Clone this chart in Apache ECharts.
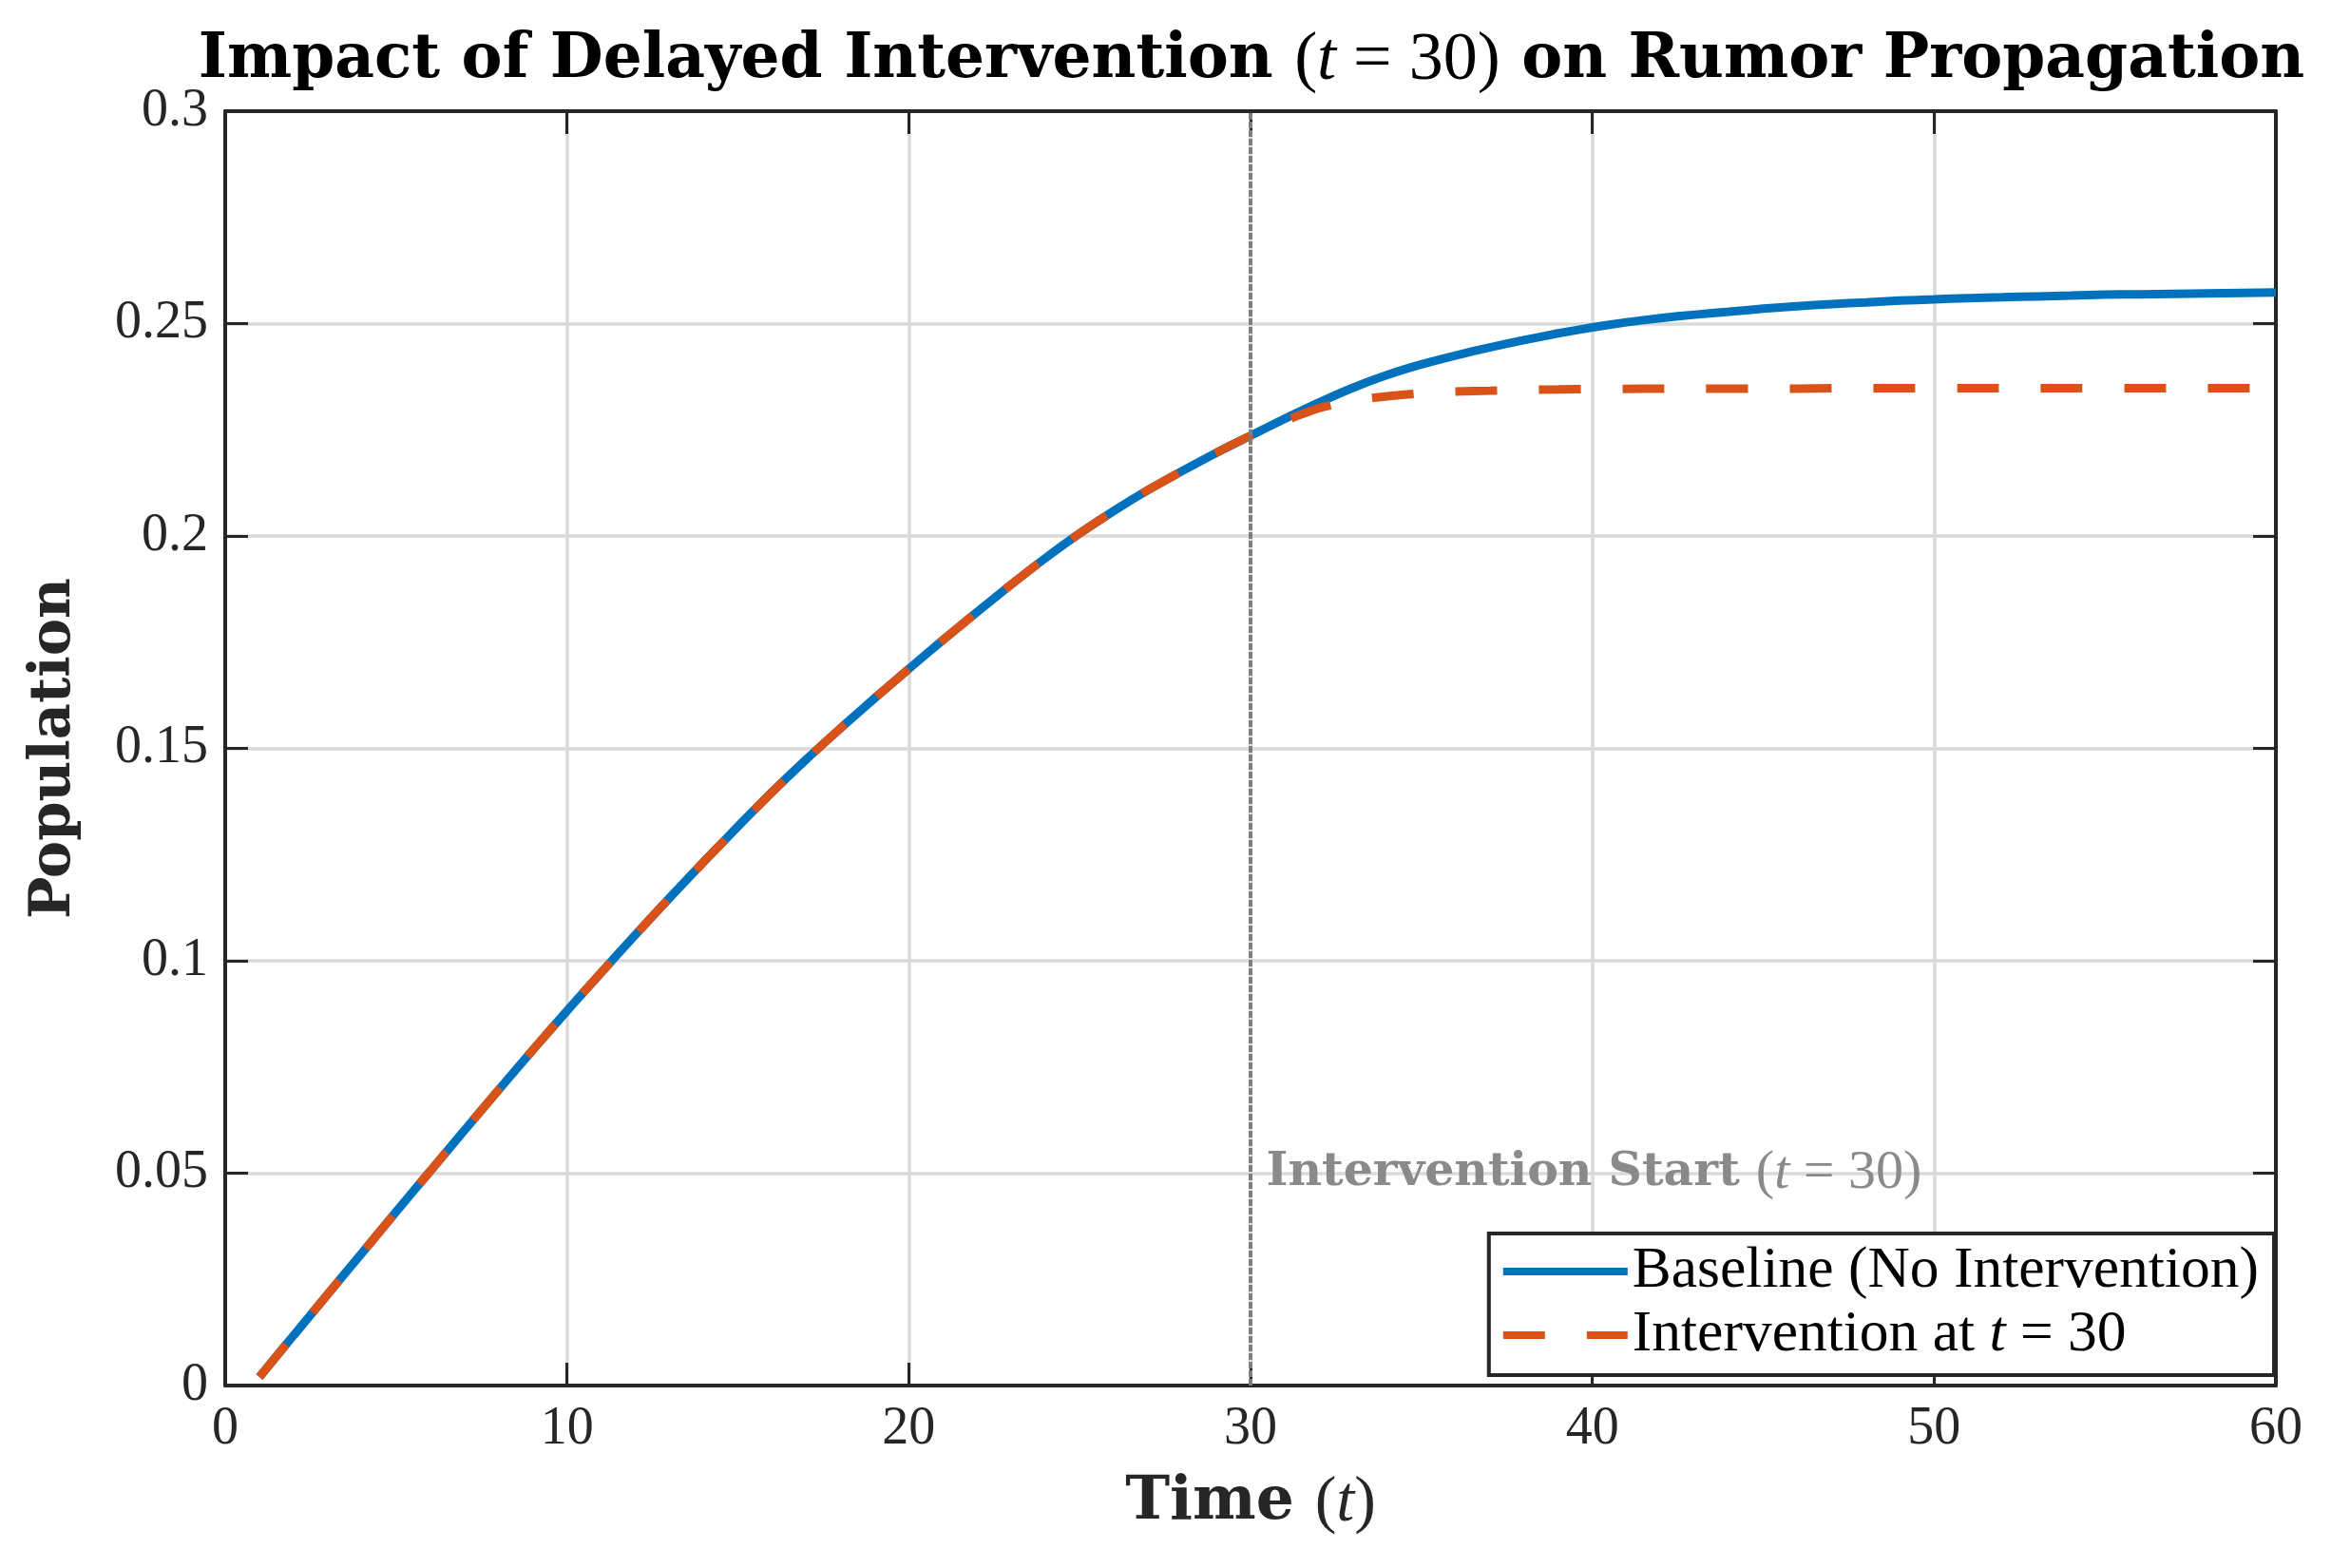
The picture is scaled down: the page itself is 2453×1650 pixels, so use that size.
<!DOCTYPE html>
<html>
<head>
<meta charset="utf-8">
<script src="https://cdn.jsdelivr.net/npm/echarts@6/dist/echarts.min.js"></script>
<style>
  html, body { margin: 0; padding: 0; background: #fff; }
  #main { width: 2453px; height: 1650px; }
</style>
</head>
<body>
<div id="main"></div>
<script>
  // values
  const timeSteps = [1, 2, 3, 4, 5, 6, 7, 8, 9, 10, 11, 12, 13, 14, 15, 16, 17, 18, 19, 20,
    21, 22, 23, 24, 25, 26, 27, 28, 29, 30, 31, 32, 33, 34, 35, 36, 37, 38, 39, 40,
    41, 42, 43, 44, 45, 46, 47, 48, 49, 50, 51, 52, 53, 54, 55, 56, 57, 58, 59, 60];

  const baseline = [0.0020, 0.0118, 0.0215, 0.0312, 0.0409, 0.0505, 0.0601, 0.0696, 0.0790, 0.0882,
    0.0972, 0.1061, 0.1148, 0.1233, 0.1316, 0.1397, 0.1474, 0.1547, 0.1618, 0.1687,
    0.1755, 0.1821, 0.1886, 0.1948, 0.2006, 0.2059, 0.2108, 0.2153, 0.2196, 0.2236,
    0.2276, 0.2314, 0.2349, 0.2379, 0.2404, 0.2425, 0.2444, 0.2461, 0.2477, 0.2491,
    0.2503, 0.2513, 0.2521, 0.2528, 0.2535, 0.2541, 0.2546, 0.2550, 0.2554, 0.2557,
    0.2560, 0.2562, 0.2564, 0.2566, 0.2568, 0.2569, 0.2570, 0.2571, 0.2572, 0.2573];

  const intervention = [0.0020, 0.0118, 0.0215, 0.0312, 0.0409, 0.0505, 0.0601, 0.0696, 0.0790, 0.0882,
    0.0972, 0.1061, 0.1148, 0.1233, 0.1316, 0.1397, 0.1474, 0.1547, 0.1618, 0.1687,
    0.1755, 0.1821, 0.1886, 0.1948, 0.2006, 0.2059, 0.2108, 0.2153, 0.2196, 0.2236,
    0.2271, 0.2301, 0.2319, 0.2329, 0.2336, 0.2340, 0.2342, 0.2344, 0.2345, 0.2346,
    0.2346, 0.2347, 0.2347, 0.2347, 0.2347, 0.2347, 0.2348, 0.2348, 0.2348, 0.2348,
    0.2348, 0.2348, 0.2348, 0.2348, 0.2348, 0.2348, 0.2348, 0.2348, 0.2348, 0.2348];

  const interventionTime = 30;
  const labelLevel = 0.05;

  const xTicks = { min: 0, max: 60, interval: 10 };
  const yTicks = { min: 0, max: 0.3, interval: 0.05 };

  const serif = '"Liberation Serif", "DejaVu Serif", serif';
  const wideBold = '"DejaVu Serif", "Liberation Serif", serif';
  const axisColor = '#262626';
  const blue = '#0072BD';
  const orange = '#D95319';

  const toPairs = (xs, ys) => xs.map((x, i) => [x, ys[i]]);

  let chart = echarts.init(document.getElementById('main'), null, { renderer: 'canvas' });

  // b: bold words, n: plain words, m: upright math, i: italic math variable
  const mathRich = (size, boldSize, color) => ({
    b: { fontFamily: wideBold, fontSize: boldSize, fontWeight: 'bold', color: color },
    n: { fontFamily: serif, fontSize: size, color: color },
    m: { fontFamily: serif, fontSize: size, fontWeight: 'normal', color: color },
    i: { fontFamily: serif, fontSize: size, fontWeight: 'normal', fontStyle: 'italic', color: color }
  });

  const frameAxis = {
    axisLine: { show: true, onZero: false, lineStyle: { color: axisColor, width: 4 } },
    axisTick: { show: true, inside: true, length: 24, lineStyle: { color: axisColor, width: 3 } }
  };

  let option = {
    animation: false,
    backgroundColor: '#ffffff',
    title: {
      text: '{b|Impact of Delayed Intervention }{m|(}{i|t}{m| = 30)}{b| on Rumor Propagation}',
      left: 1312,
      top: 23,
      textAlign: 'center',
      textStyle: { rich: mathRich(72, 64.5, '#000000') }
    },
    grid: { left: 237, right: 58, top: 117, bottom: 192 },
    legend: {
      orient: 'vertical',
      right: 60,
      bottom: 203,
      itemWidth: 131,
      itemHeight: 8,
      itemGap: 5,
      padding: [9, 16, 11, 15],
      backgroundColor: '#ffffff',
      borderColor: axisColor,
      borderWidth: 4,
      borderRadius: 0,
      itemStyle: { borderWidth: 0 },
      data: [
        { name: 'Baseline (No Intervention)', icon: 'path://M0,0 H131 V8 H0 Z' },
        { name: 'Intervention at t = 30', icon: 'path://M0,0 H44 V8 H0 Z M88,0 H131 V8 H88 Z' }
      ],
      formatter: function (name) {
        if (name === 'Intervention at t = 30') return '{n|Intervention at }{i|t}{n| = 30}';
        return '{n|' + name + '}';
      },
      textStyle: { lineHeight: 62, rich: mathRich(61.5, 61.5, '#000000') }
    },
    xAxis: [
      Object.assign({
        type: 'value',
        position: 'bottom',
        min: xTicks.min, max: xTicks.max, interval: xTicks.interval,
        name: '{b|Time }{m|(}{i|t}{m|)}',
        nameLocation: 'middle',
        nameGap: 90,
        nameTextStyle: { rich: mathRich(68, 63, '#262626') },
        axisLabel: { fontFamily: serif, fontSize: 56, color: axisColor, margin: 18 },
        splitLine: { show: true, lineStyle: { color: '#dadada', width: 3.5 } }
      }, frameAxis),
      Object.assign({
        type: 'value',
        position: 'top',
        min: xTicks.min, max: xTicks.max, interval: xTicks.interval,
        axisLabel: { show: false },
        splitLine: { show: false }
      }, frameAxis)
    ],
    yAxis: [
      Object.assign({
        type: 'value',
        position: 'left',
        min: yTicks.min, max: yTicks.max, interval: yTicks.interval,
        name: 'Population',
        nameLocation: 'middle',
        nameRotate: 90,
        nameGap: 150,
        nameTextStyle: { fontFamily: wideBold, fontSize: 59, fontWeight: 'bold', color: '#262626' },
        axisLabel: { fontFamily: serif, fontSize: 56, color: axisColor, margin: 18 },
        splitLine: { show: true, lineStyle: { color: '#dadada', width: 3.5 } }
      }, frameAxis),
      Object.assign({
        type: 'value',
        position: 'right',
        min: yTicks.min, max: yTicks.max, interval: yTicks.interval,
        axisLabel: { show: false },
        splitLine: { show: false }
      }, frameAxis)
    ],
    series: [
      {
        name: 'Baseline (No Intervention)',
        type: 'line',
        data: toPairs(timeSteps, baseline),
        symbol: 'none',
        smooth: 0.2,
        lineStyle: { color: blue, width: 9 },
        itemStyle: { color: blue },
        z: 3,
        markLine: {
          silent: true,
          symbol: 'none',
          label: { show: false },
          lineStyle: { color: '#7f7f7f', width: 4, type: [7, 2] },
          data: [{ xAxis: interventionTime }]
        },
        markPoint: {
          silent: true,
          symbol: 'circle',
          symbolSize: 1,
          itemStyle: { color: 'rgba(0,0,0,0)' },
          label: {
            show: true,
            position: 'right',
            distance: 16,
            formatter: '{b|Intervention Start }{m|(}{i|t}{m| = 30)}',
            rich: mathRich(58, 49, '#8a8a8a')
          },
          data: [{ coord: [interventionTime, labelLevel] }]
        }
      },
      {
        name: 'Intervention at t = 30',
        type: 'line',
        data: toPairs(timeSteps, intervention),
        symbol: 'none',
        smooth: 0.2,
        lineStyle: { color: orange, width: 9, type: [44, 44] },
        itemStyle: { color: orange },
        z: 4
      }
    ]
  };

  chart.setOption(option);
</script>
</body>
</html>
